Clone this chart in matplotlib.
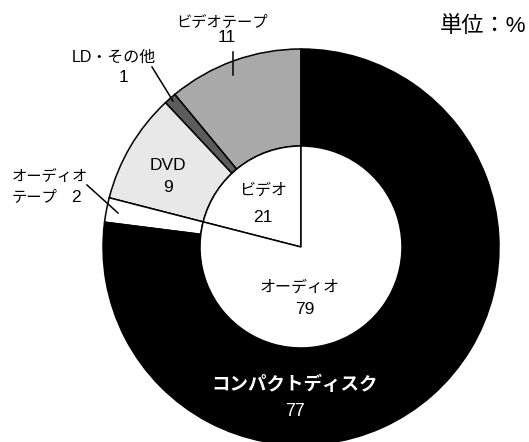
import matplotlib.pyplot as plt

plt.rcParams['font.family'] = ['Liberation Sans', 'Noto Sans CJK JP', 'DejaVu Sans']

# outer ring (counter-clockwise from 12 o'clock)
outer_labels = ['ビデオテープ', 'LD・その他', 'DVD', 'オーディオテープ', 'コンパクトディスク']
outer_values = [11, 1, 9, 2, 77]
outer_colors = ['#a9a9a9', '#5c5c5c', '#e8e8e8', '#ffffff', '#000000']

# inner circle
inner_labels = ['ビデオ', 'オーディオ']
inner_values = [21, 79]

W, H = 529, 442
cx, cy = 301, H - 247
r_out, r_in = 198, 101


def py(y):
    # pixel row (from top) -> data y
    return H - y


fig = plt.figure(figsize=(W / 100, H / 100), dpi=100)
ax = fig.add_axes([0, 0, 1, 1])

ax.pie(outer_values, radius=r_out, center=(cx, cy), startangle=90, counterclock=True,
       colors=outer_colors,
       wedgeprops=dict(width=r_out - r_in, edgecolor='black', linewidth=1.1))
ax.pie(inner_values, radius=r_in, center=(cx, cy), startangle=90, counterclock=True,
       colors=['white', 'white'],
       wedgeprops=dict(edgecolor='black', linewidth=1.1))

ax.set_xlim(0, W)
ax.set_ylim(0, H)
ax.set_aspect('equal')
ax.axis('off')

fs = 11
fn = 12.5  # numbers
# outer labels
ax.text(222, py(22), outer_labels[0], ha='center', va='center', fontsize=fs)
ax.text(227, py(38), str(outer_values[0]), ha='center', va='center', fontsize=fn)
ax.plot([233, 233], [py(52), py(75)], color='black', lw=1.1)

ax.text(114, py(57), outer_labels[1], ha='center', va='center', fontsize=fs + 0.5)
ax.text(123, py(77), str(outer_values[1]), ha='center', va='center', fontsize=fn)
ax.plot([152, 173], [py(67), py(101)], color='black', lw=1.1)

ax.text(12, py(177), 'オーディオ', ha='left', va='center', fontsize=fs)
ax.text(12, py(197), 'テープ', ha='left', va='center', fontsize=fs)
ax.text(76, py(197), str(outer_values[3]), ha='center', va='center', fontsize=fn)
ax.plot([87, 118], [py(185), py(213)], color='black', lw=1.1)

ax.text(168, py(165), outer_labels[2], ha='center', va='center', fontsize=fn)
ax.text(168, py(188), str(outer_values[2]), ha='center', va='center', fontsize=fn)

# inner labels
ax.text(263, py(190), inner_labels[0], ha='center', va='center', fontsize=fs + 0.5)
ax.text(263, py(217), str(inner_values[0]), ha='center', va='center', fontsize=fn)
ax.text(300, py(287), inner_labels[1], ha='center', va='center', fontsize=fs + 0.5)
ax.text(305, py(310), str(inner_values[1]), ha='center', va='center', fontsize=fn)

ax.text(295, py(385), outer_labels[4], ha='center', va='center', fontsize=13.3,
        color='white', fontweight='bold')
ax.text(295, py(412), str(outer_values[4]), ha='center', va='center', fontsize=13,
        color='white')

ax.text(526, py(27), '単位：%', ha='right', va='center', fontsize=16)

plt.savefig('out.png', dpi=100)
